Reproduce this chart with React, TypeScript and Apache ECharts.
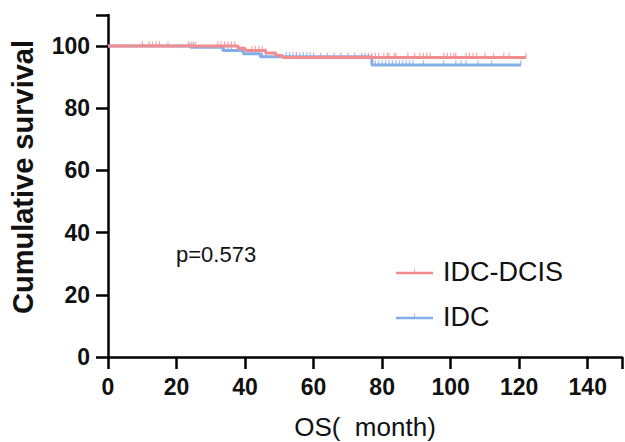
import React, { useEffect, useRef } from "react";
import * as echarts from "echarts";

const xTicks = [0, 20, 40, 60, 80, 100, 120, 140];
const yTicks = [0, 20, 40, 60, 80, 100];

// Kaplan-Meier step points: [time (month), survival %]
const idcDcisTimes = [0, 38, 40, 46, 49, 51, 122];
const idcDcisSurv = [100, 99.3, 98.6, 97.8, 97.0, 96.3, 96.3];
const idcTimes = [0, 24, 33.5, 39.5, 44.5, 77, 120.5];
const idcSurv = [100, 99.6, 98.6, 97.5, 96.6, 93.9, 93.9];

// censored observations (months)
const idcDcisCensor = [10, 12, 13, 14, 15, 17.5, 23.5, 24.5, 25.5, 32, 33, 34, 35, 36, 37, 42, 43, 44, 45, 46, 55, 60, 62, 64, 66, 68, 70, 72, 74, 75, 76, 77, 78, 79, 80.5, 81.5, 82, 83.5, 84, 87.5, 89.5, 91, 92, 93, 94, 98, 99, 100, 101, 101.5, 104.5, 105.5, 106.5, 107.5, 110, 112.5, 115.5, 117, 122];
const idcCensor = [24, 25, 34, 35, 36, 43, 45, 46, 52, 53, 54, 55, 56, 57, 58, 59, 78, 79, 80, 81, 82, 83, 84, 85, 86, 87, 88, 89, 92, 98, 101.5, 103, 104.5, 108, 112, 120.5];

const seriesNames = ["IDC-DCIS", "IDC"];
const pValueText = "p=0.573";
const xAxisName = "OS(  month)";
const yAxisName = "Cumulative survival";

const RED = "#F28C8E";
const BLUE = "#84AEE8";

function survAt(times: number[], surv: number[], t: number) {
  let s = surv[0];
  for (let i = 0; i < times.length; i++) {
    if (times[i] <= t) s = surv[i];
  }
  return s;
}

export default function App() {
  const ref = useRef<HTMLDivElement>(null);
  useEffect(() => {
    if (!ref.current) return;
    const chart = echarts.init(ref.current, null, { renderer: "svg" });
    const font = "Arial, 'Liberation Sans', sans-serif";
    const censorSymbol = {
      symbol: "rect",
      symbolSize: [1.2, 4.5],
      symbolOffset: [0, -2.5],
    };
    const legendIcon = "path://M0,3h38v2.5h-38z M18.6,0h0.8v3h-0.8z";
    chart.setOption({
      animation: false,
      backgroundColor: "#ffffff",
      grid: { left: 108, right: 3, top: 15, bottom: 85, containLabel: false, outerBoundsMode: "none" },
      legend: {
        orient: "vertical",
        left: 391,
        top: 253,
        itemWidth: 37,
        itemHeight: 7,
        itemGap: 18,
        itemStyle: { borderWidth: 0 },
        textStyle: { fontFamily: font, fontSize: 27, color: "#111", padding: [0, 0, 0, 5] },
        data: [
          { name: seriesNames[0], icon: legendIcon, itemStyle: { color: RED } },
          { name: seriesNames[1], icon: legendIcon, itemStyle: { color: BLUE } },
        ],
      },
      xAxis: {
        type: "value",
        min: 0,
        max: 150,
        interval: 20,
        name: xAxisName,
        nameLocation: "middle",
        nameGap: 57,
        nameTextStyle: { fontFamily: font, fontSize: 26, lineHeight: 26, color: "#111" },
        axisLine: { lineStyle: { color: "#000", width: 2.5 } },
        axisTick: { length: 12, lineStyle: { color: "#000", width: 2.5 } },
        axisLabel: {
          margin: 18,
          fontFamily: font,
          fontWeight: "bold",
          fontSize: 23,
          color: "#111",
          formatter: (v: number) => (xTicks.includes(v) ? String(v) : ""),
        },
        splitLine: { show: false },
      },
      yAxis: {
        type: "value",
        min: 0,
        max: 110,
        interval: 20,
        axisLine: { show: true, lineStyle: { color: "#000", width: 2.5 } },
        axisTick: { show: true, length: 12, lineStyle: { color: "#000", width: 2.5 } },
        axisLabel: {
          margin: 18,
          fontFamily: font,
          fontWeight: "bold",
          fontSize: 23,
          color: "#111",
          formatter: (v: number) => (yTicks.includes(v) ? String(v) : ""),
        },
        splitLine: { show: false },
      },
      graphic: [
        {
          type: "text",
          x: 23,
          y: 177,
          rotation: Math.PI / 2,
          style: {
            text: yAxisName,
            fontFamily: font,
            fontSize: 29,
            fontWeight: "bold",
            fill: "#111",
            align: "center",
            verticalAlign: "middle",
          },
        },
        {
          type: "text",
          left: 176,
          top: 243,
          style: { text: pValueText, fontFamily: font, fontSize: 22, fill: "#111" },
        },
      ],
      series: [
        {
          name: seriesNames[1],
          type: "line",
          step: "end",
          showSymbol: false,
          lineStyle: { color: BLUE, width: 3 },
          itemStyle: { color: BLUE },
          data: idcTimes.map((t, i) => [t, idcSurv[i]]),
          z: 2,
        },
        {
          name: seriesNames[1] + " censored",
          type: "scatter",
          ...censorSymbol,
          itemStyle: { color: BLUE },
          data: idcCensor.map((t) => [t, survAt(idcTimes, idcSurv, t)]),
          z: 2,
        },
        {
          name: seriesNames[0],
          type: "line",
          step: "end",
          showSymbol: false,
          lineStyle: { color: RED, width: 3 },
          itemStyle: { color: RED },
          data: idcDcisTimes.map((t, i) => [t, idcDcisSurv[i]]),
          z: 3,
        },
        {
          name: seriesNames[0] + " censored",
          type: "scatter",
          ...censorSymbol,
          itemStyle: { color: RED },
          data: idcDcisCensor.map((t) => [t, survAt(idcDcisTimes, idcDcisSurv, t)]),
          z: 3,
        },
      ],
    });
    return () => chart.dispose();
  }, []);
  return <div ref={ref} style={{ width: 625, height: 442, position: "absolute", left: 0, top: 0 }} />;
}
